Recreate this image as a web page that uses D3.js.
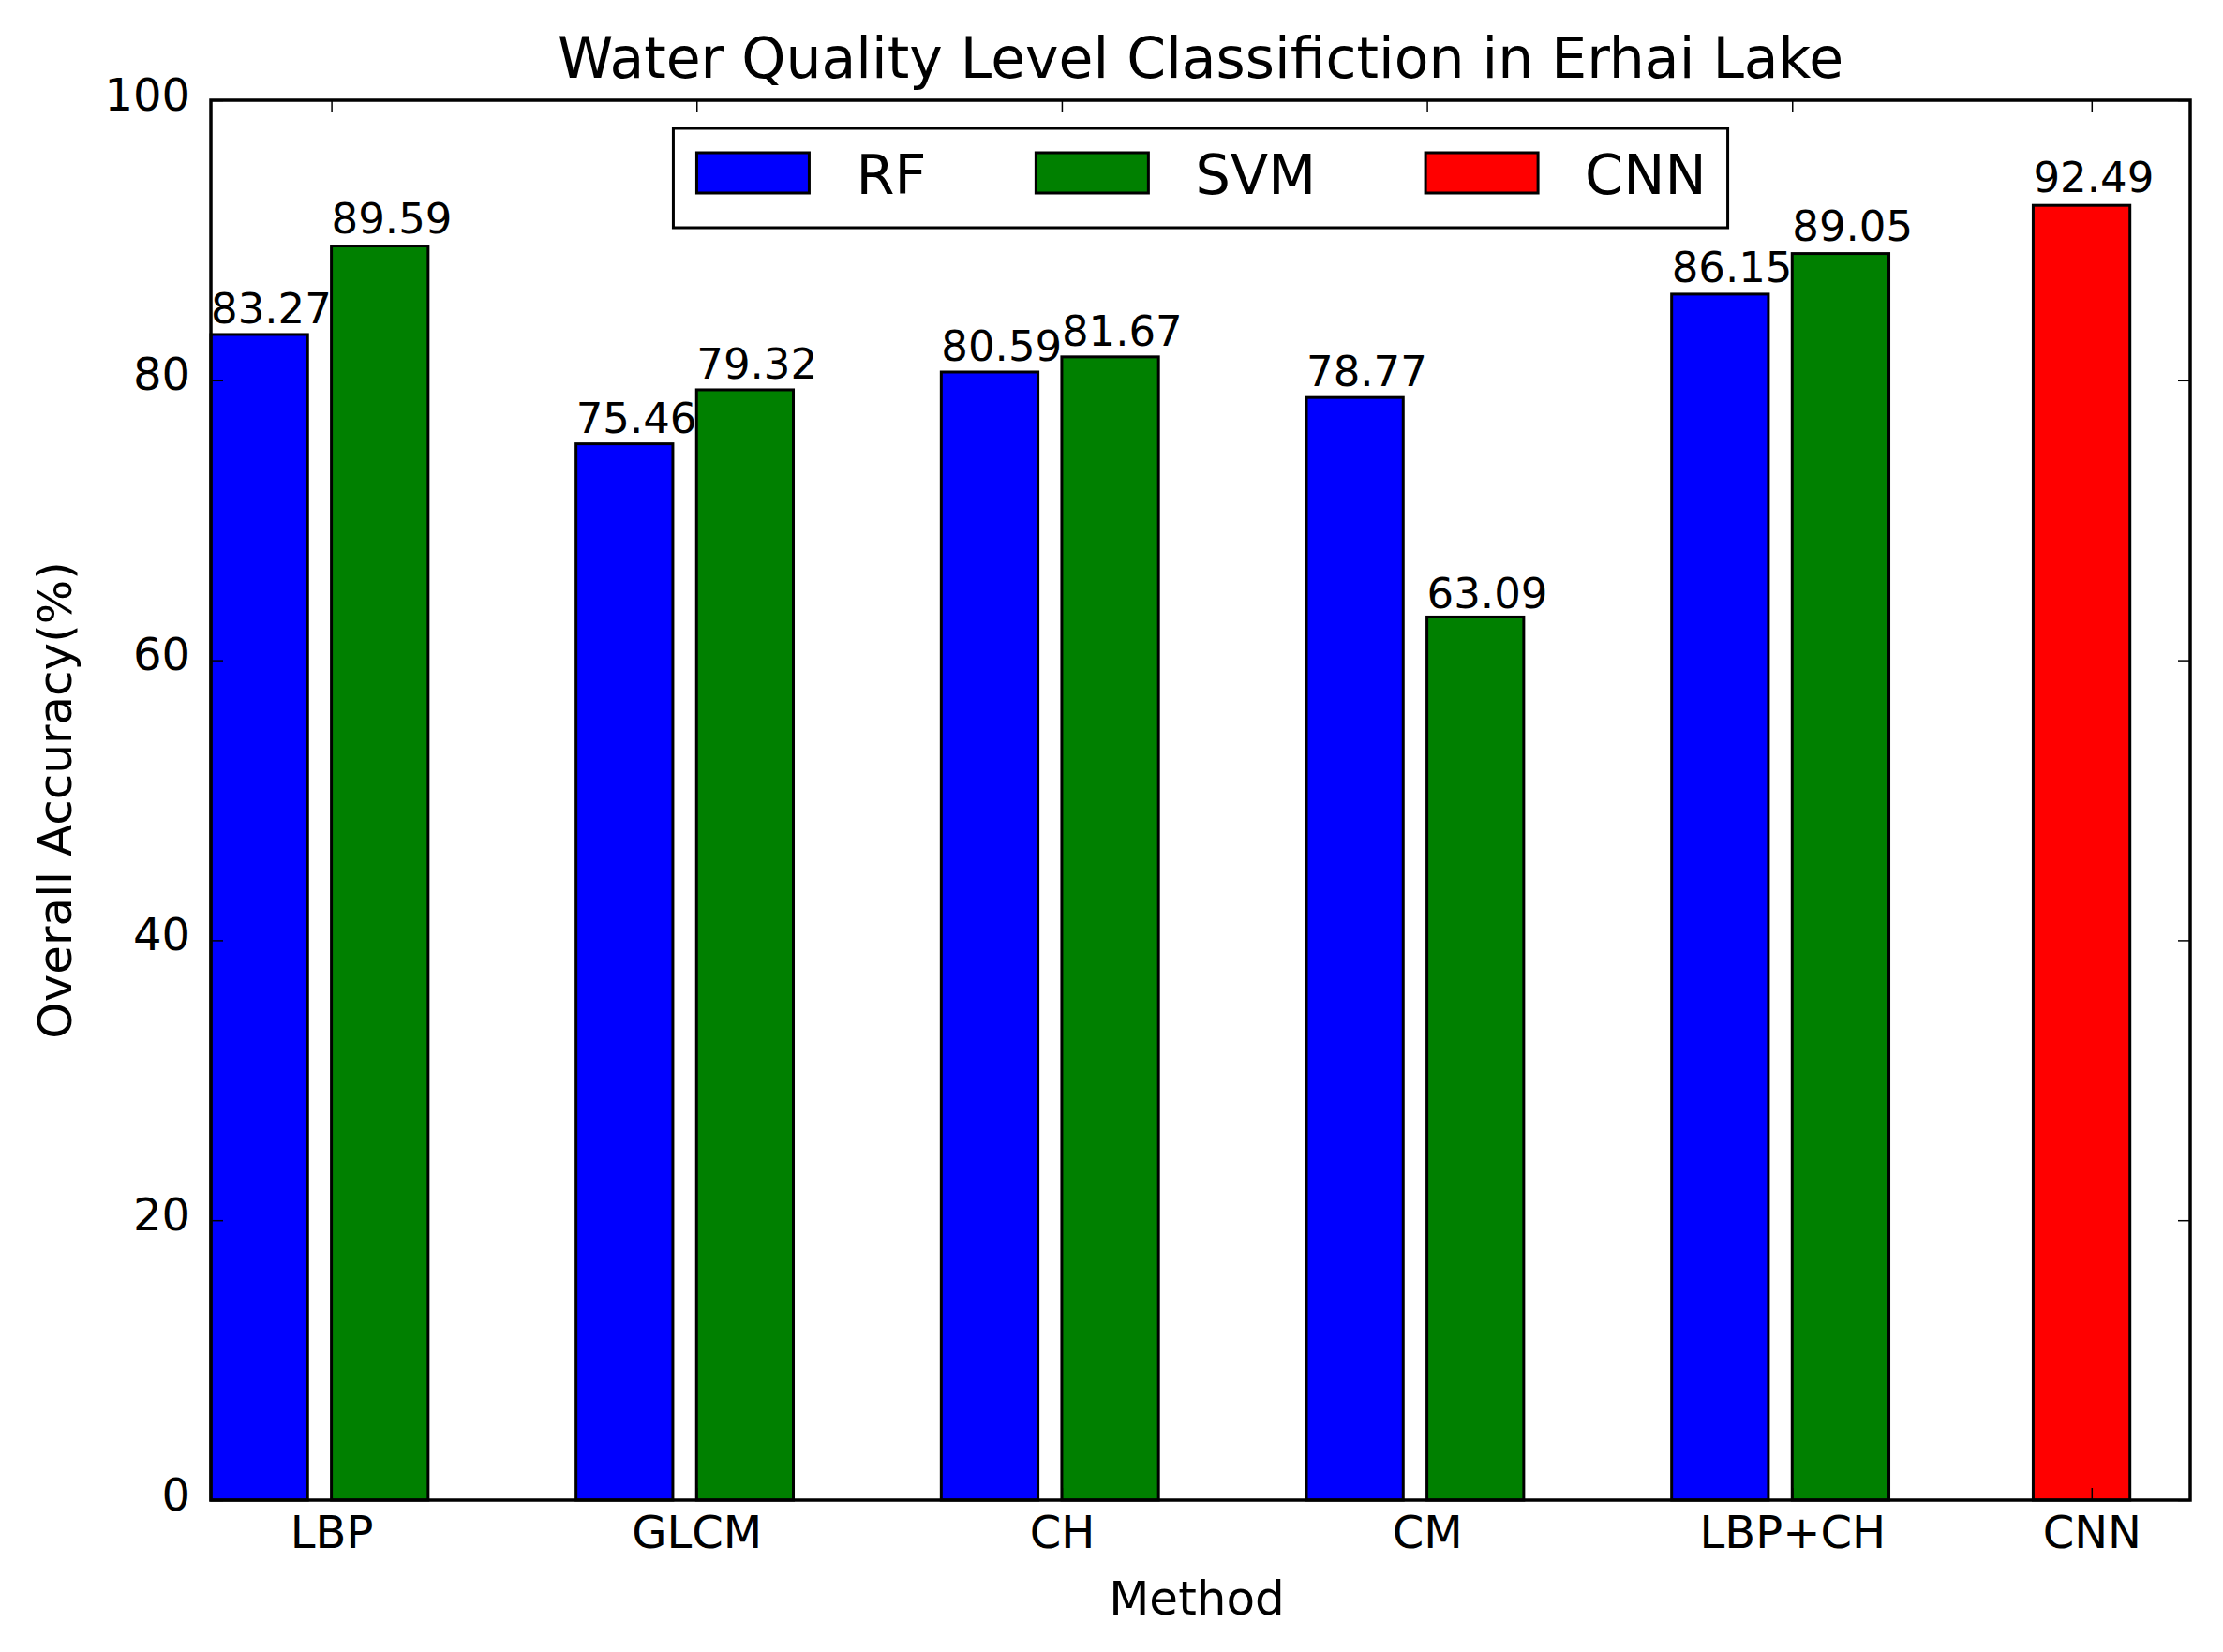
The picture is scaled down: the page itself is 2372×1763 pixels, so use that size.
<!DOCTYPE html>
<html lang="en">
<head>
<meta charset="UTF-8">
<title>Water Quality Level Classifiction in Erhai Lake</title>
<script src="https://d3js.org/d3.v7.min.js"></script>
<style>
    body{margin:0;background:#fff;}
    svg text{font-family:"DejaVu Sans",sans-serif;fill:#000;}
</style>
</head>
<body>
<svg id="chart" width="2372" height="1763"></svg>
<script>
// data
const methods = ['LBP', 'GLCM', 'CH', 'CM', 'LBP+CH', 'CNN'];
const rfValues = [83.27, 75.46, 80.59, 78.77, 86.15];
const svmValues = [89.59, 79.32, 81.67, 63.09, 89.05];
const cnnValues = [92.49];
const seriesNames = ['RF', 'SVM', 'CNN'];
const seriesColors = ['#0000ff', '#008000', '#ff0000'];
const yTicks = [0, 20, 40, 60, 80, 100];

const svg = d3.select('#chart');
const plotL = 225, plotR = 2337, plotT = 107, plotB = 1601;
const barW = 0.265, svmShift = 0.33, cnnPos = 4.99, cnnTick = 5.15;
const tickLen = 13;

const x = d3.scaleLinear().domain([0, 5.42]).range([plotL, plotR]);
const y = d3.scaleLinear().domain([0, 100]).range([plotB, plotT]);

// every bar: one entry per rect
const bars = [];
rfValues.forEach((v, i) => bars.push({pos: i, v, s: 0}));
svmValues.forEach((v, i) => bars.push({pos: i + svmShift, v, s: 1}));
cnnValues.forEach((v, i) => bars.push({pos: cnnPos + i, v, s: 2}));
const tickPos = methods.map((m, i) => i < rfValues.length ? i + svmShift : cnnTick);

svg.append('g').selectAll('rect').data(bars).join('rect')
    .attr('x', d => x(d.pos))
    .attr('y', d => y(d.v))
    .attr('width', d => x(d.pos + barW) - x(d.pos))
    .attr('height', d => y(0) - y(d.v))
    .attr('fill', d => seriesColors[d.s])
    .attr('stroke', '#000')
    .attr('stroke-width', 3);

svg.append('g').selectAll('text').data(bars).join('text')
    .attr('x', d => x(d.pos))
    .attr('y', d => y(d.v * 1.01))
    .attr('font-size', 45)
    .text(d => d.v.toFixed(2));

// axes, ticks pointing inward
const gx = svg.append('g').attr('transform', `translate(0,${plotB})`)
    .call(d3.axisBottom(x).tickValues(tickPos).tickFormat((d, i) => methods[i])
        .tickSizeInner(-tickLen).tickSizeOuter(0));
gx.selectAll('text').attr('y', 51).attr('dy', null).attr('font-size', 48);

const gxTop = svg.append('g').attr('transform', `translate(0,${plotT})`)
    .call(d3.axisTop(x).tickValues(tickPos).tickFormat('').tickSizeInner(-tickLen).tickSizeOuter(0));

const gy = svg.append('g').attr('transform', `translate(${plotL},0)`)
    .call(d3.axisLeft(y).tickValues(yTicks).tickSizeInner(-tickLen).tickSizeOuter(0).tickPadding(22));
gy.selectAll('text').attr('dy', 10).attr('font-size', 48);

const gyRight = svg.append('g').attr('transform', `translate(${plotR},0)`)
    .call(d3.axisRight(y).tickValues(yTicks).tickFormat('').tickSizeInner(-tickLen).tickSizeOuter(0));

[gx, gxTop, gy, gyRight].forEach(g => {
    g.select('.domain').remove();
    g.selectAll('.tick line').attr('stroke', '#000').attr('stroke-width', 1.5);
    g.selectAll('text').attr('fill', '#000').attr('font-family', '"DejaVu Sans",sans-serif');
});

// frame
svg.append('rect')
    .attr('x', plotL).attr('y', plotT)
    .attr('width', plotR - plotL).attr('height', plotB - plotT)
    .attr('fill', 'none').attr('stroke', '#000').attr('stroke-width', 3.5);

// labels
svg.append('text').attr('x', (plotL + plotR) / 2).attr('y', 83)
    .attr('text-anchor', 'middle').attr('font-size', 60)
    .text('Water Quality Level Classifiction in Erhai Lake');
svg.append('text').attr('x', (plotL + plotR) / 2 - 4).attr('y', 1723)
    .attr('text-anchor', 'middle').attr('font-size', 50)
    .text('Method');
svg.append('text')
    .attr('transform', `translate(76,${(plotT + plotB) / 2}) rotate(-90)`)
    .attr('text-anchor', 'middle').attr('font-size', 50)
    .text('Overall Accuracy(%)');

// legend, upper center, three columns
const legend = svg.append('g');
const swW = 120, swH = 43, padL = 25, padR = 23, textGap = 50, colGap = 117;
const items = legend.selectAll('g').data(seriesNames).join('g');
items.append('rect')
    .attr('width', swW).attr('height', swH)
    .attr('fill', (d, i) => seriesColors[i])
    .attr('stroke', '#000').attr('stroke-width', 3);
items.append('text')
    .attr('x', swW + textGap).attr('y', swH / 2 + 22)
    .attr('font-size', 59)
    .text(d => d);
let cx = 0;
items.each(function () {
    const w = d3.select(this).select('text').node().getComputedTextLength();
    d3.select(this).attr('transform', `translate(${cx},0)`);
    cx += swW + textGap + w + colGap;
});
const boxW = cx - colGap + padL + padR;
const boxX = (plotL + plotR) / 2 - boxW / 2, boxY = 137;
legend.insert('rect', ':first-child')
    .attr('x', -padL).attr('y', -26)
    .attr('width', boxW).attr('height', 106)
    .attr('fill', '#fff').attr('stroke', '#000').attr('stroke-width', 3);
legend.attr('transform', `translate(${boxX + padL},${boxY + 26})`);
</script>
</body>
</html>
